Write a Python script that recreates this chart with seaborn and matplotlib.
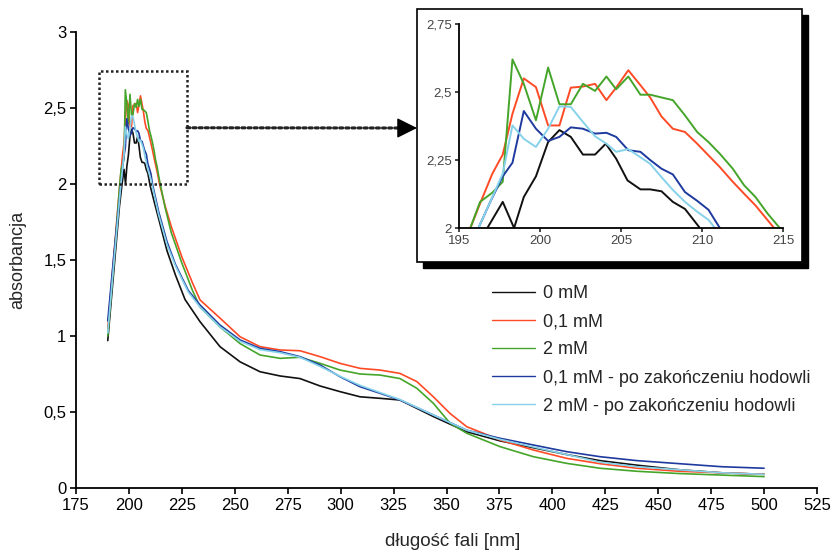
import matplotlib
matplotlib.use("Agg")
import matplotlib.pyplot as plt
import numpy as np
import pandas as pd
import seaborn as sns
from matplotlib.patches import Rectangle

# UV-Vis absorbance spectra of the culture media
labels = ["0 mM", "0,1 mM", "2 mM",
          "0,1 mM - po zakończeniu hodowli", "2 mM - po zakończeniu hodowli"]
colors = ["#111111", "#ff4a26", "#45a52a", "#1f3a9e", "#86d2ea"]

wl_0 = [190, 193, 195.5, 196.75, 197.7, 198.4, 199.0, 199.75, 200.5, 201.2, 201.9,
        202.65, 203.4, 204.06, 204.7, 205.4, 206.2, 206.8, 207.5, 208.2, 208.95,
        210.0, 212, 215, 218, 222, 226.5, 233.6, 243, 252.5, 261.9, 271.4, 280.8,
        290.3, 299.7, 309.2, 318.6, 328, 343.8, 359.6, 375.3, 391, 406.8, 422.5,
        440, 460, 480, 500]
abs_0 = [0.97, 1.45, 1.85, 2.0, 2.096, 2.0, 2.114, 2.19, 2.316, 2.36, 2.335,
         2.27, 2.27, 2.31, 2.255, 2.175, 2.142, 2.142, 2.135, 2.096, 2.07,
         1.99, 1.88, 1.72, 1.56, 1.40, 1.24, 1.094, 0.93, 0.83, 0.765, 0.737, 0.72,
         0.671, 0.634, 0.60, 0.59, 0.579, 0.47, 0.37, 0.31, 0.265, 0.22, 0.18,
         0.15, 0.12, 0.10, 0.09]

wl_01 = [190, 193, 195.7, 196.3, 197.06, 197.7, 198.3, 199.0, 199.75, 200.5, 201.2,
         201.9, 202.65, 203.4, 204.1, 204.7, 205.45, 206.2, 206.8, 207.5, 208.2,
         208.95, 209.7, 210.4, 211.1, 211.9, 212.6, 213.3, 214.45, 217, 220, 225,
         230, 233.6, 243, 252.5, 261.9, 271.4, 280.8, 290.3, 299.7, 309.2, 318.6,
         328, 336, 343.8, 351.7, 359.6, 367.4, 375.3, 391, 406.8, 422.5, 440, 460,
         480, 500]
abs_01 = [1.05, 1.55, 2.0, 2.09, 2.2, 2.27, 2.42, 2.55, 2.518, 2.377, 2.377,
          2.516, 2.52, 2.53, 2.47, 2.516, 2.58, 2.525, 2.48, 2.41, 2.365,
          2.353, 2.31, 2.267, 2.224, 2.17, 2.126, 2.083, 2.0, 1.86, 1.72, 1.52,
          1.35, 1.237, 1.118, 0.995, 0.93, 0.908, 0.903, 0.864, 0.82, 0.787, 0.776,
          0.754, 0.70, 0.60, 0.49, 0.403, 0.36, 0.316, 0.25, 0.195, 0.16, 0.13, 0.11,
          0.10, 0.09]

wl_2 = [190, 193, 195.7, 196.3, 197.06, 197.7, 198.3, 199.0, 199.75, 200.5, 201.2,
        201.9, 202.65, 203.4, 204.1, 204.7, 205.45, 206.2, 206.8, 207.5, 208.2,
        208.95, 209.7, 210.4, 211.1, 211.9, 212.6, 213.3, 214.05, 214.8, 217, 220,
        225, 230, 233.6, 243, 252.5, 261.9, 271.4, 280.8, 290.3, 299.7, 309.2,
        318.6, 328, 336, 343.8, 351.7, 359.6, 375.3, 391, 406.8, 422.5, 440, 460,
        480, 500]
abs_2 = [1.0, 1.52, 2.0, 2.096, 2.13, 2.17, 2.62, 2.53, 2.396, 2.59, 2.455,
         2.455, 2.53, 2.504, 2.557, 2.51, 2.557, 2.49, 2.49, 2.48, 2.47,
         2.414, 2.353, 2.316, 2.273, 2.218, 2.157, 2.114, 2.053, 2.0, 1.85, 1.68,
         1.48, 1.3, 1.19, 1.06, 0.95, 0.875, 0.853, 0.86, 0.82, 0.776, 0.75,
         0.743, 0.72, 0.656, 0.557, 0.426, 0.36, 0.272, 0.206, 0.162, 0.13, 0.11, 0.095,
         0.085, 0.075]

wl_01_end = [190, 193, 196.2, 196.96, 197.7, 198.3, 199.0, 199.75, 200.5, 201.2,
             201.9, 202.65, 203.4, 204.1, 204.7, 205.45, 206.2, 206.8, 207.5, 208.2,
             208.95, 209.7, 210.4, 211.1, 214, 218, 222, 228, 233.6, 243, 252.5,
             261.9, 271.4, 280.8, 290.3, 299.7, 309.2, 318.6, 328, 343.8, 359.6,
             375.3, 391, 406.8, 422.5, 440, 460, 480, 500]
abs_01_end = [1.1, 1.55, 2.0, 2.1, 2.19, 2.24, 2.43, 2.365, 2.32, 2.335,
              2.37, 2.365, 2.347, 2.35, 2.335, 2.286, 2.28, 2.25, 2.218, 2.197,
              2.132, 2.1, 2.067, 2.0, 1.82, 1.62, 1.47, 1.3, 1.204, 1.072, 0.974,
              0.919, 0.897, 0.864, 0.809, 0.732, 0.666, 0.623, 0.579, 0.48, 0.38,
              0.327, 0.283, 0.239, 0.206, 0.18, 0.16, 0.14, 0.13]

wl_2_end = [190, 193, 196.2, 197.06, 197.7, 198.3, 199.0, 199.75, 200.5, 201.2,
            201.9, 202.65, 203.4, 204.1, 204.7, 205.45, 206.2, 206.8, 207.5, 208.2,
            208.95, 209.7, 210.4, 210.8, 214, 218, 222, 228, 233.6, 243, 252.5,
            261.9, 271.4, 280.8, 290.3, 299.7, 309.2, 318.6, 328, 343.8, 359.6,
            375.3, 391, 406.8, 422.5, 440, 460, 480, 500]
abs_2_end = [1.02, 1.5, 2.0, 2.114, 2.2, 2.377, 2.328, 2.298, 2.365, 2.447,
             2.445, 2.39, 2.337, 2.31, 2.28, 2.29, 2.26, 2.236, 2.187, 2.14,
             2.096, 2.06, 2.03, 2.0, 1.80, 1.60, 1.46, 1.29, 1.19, 1.06, 0.965,
             0.91, 0.89, 0.86, 0.80, 0.735, 0.675, 0.628, 0.582, 0.48, 0.38,
             0.32, 0.27, 0.22, 0.17, 0.14, 0.12, 0.10, 0.09]

x_ticks = [175, 200, 225, 250, 275, 300, 325, 350, 375, 400, 425, 450, 475, 500, 525]
y_ticks = [0, 0.5, 1, 1.5, 2, 2.5, 3]
y_tick_labels = ["0", "0,5", "1", "1,5", "2", "2,5", "3"]
inset_x_ticks = [195, 200, 205, 210, 215]
inset_y_ticks = [2, 2.25, 2.5, 2.75]
inset_y_tick_labels = ["2", "2,25", "2,5", "2,75"]

series = [(wl_0, abs_0), (wl_01, abs_01), (wl_2, abs_2),
          (wl_01_end, abs_01_end), (wl_2_end, abs_2_end)]
df = pd.concat([pd.DataFrame({"wl": w, "abs": a, "sample": lab})
                for lab, (w, a) in zip(labels, series)], ignore_index=True)

sns.set_style("ticks")
plt.rcParams["font.family"] = ["Liberation Sans", "DejaVu Sans"]

W, H = 835, 554
fig = plt.figure(figsize=(W / 100, H / 100), dpi=100)
fig.patch.set_facecolor("white")

# main spectrum axes
ax = fig.add_axes([76 / W, 1 - 488 / H, 741 / W, 456 / H], zorder=0)
sns.lineplot(data=df, x="wl", y="abs", hue="sample", hue_order=labels,
             palette=colors, sort=False, estimator=None, lw=1.2, ax=ax)
ax.set_xlim(175, 525)
ax.set_ylim(0, 3)
ax.set_xticks(x_ticks)
ax.set_xticklabels([str(t) for t in x_ticks])
ax.set_yticks(y_ticks)
ax.set_yticklabels(y_tick_labels)
sns.despine(ax=ax)
for s in ("left", "bottom"):
    ax.spines[s].set_linewidth(1.3)
    ax.spines[s].set_color("black")
ax.tick_params(length=4, width=1.2, labelsize=12, colors="black", pad=3)
ax.set_ylabel("absorbancja", fontsize=13)
ax.set_xlabel("długość fali [nm]", fontsize=13.5)
ax.xaxis.set_label_coords((453 - 76) / 741, (488 - 541) / 456)
ax.yaxis.set_label_coords((18 - 76) / 741, 0.5)
ax.xaxis.label.set_va("center")
ax.yaxis.label.set_va("center")

handles, lbls = ax.get_legend_handles_labels()
leg = ax.legend(handles, lbls, loc="upper left",
                bbox_to_anchor=(492 / W, 1 - 285 / H), bbox_transform=fig.transFigure,
                frameon=False, fontsize=13, handlelength=2.4, handletextpad=0.4,
                labelspacing=0.62, borderpad=0, borderaxespad=0)
for line in leg.get_lines():
    line.set_linewidth(1.0)

# zoom region marker and arrow towards the enlarged view
ax.add_patch(Rectangle((185.8, 2.0), 41.6, 0.745, fill=False, ec="#222222",
                       lw=1.8, ls=(0, (1, 1)), zorder=5))
ax.annotate("", xy=(404 / W, 1 - 128 / H), xycoords="figure fraction",
            xytext=(227.4, 2.37), textcoords="data", annotation_clip=False,
            arrowprops=dict(arrowstyle="-", ls=(0, (1, 1)), lw=2.2, color="#222222",
                            shrinkA=0, shrinkB=0))
ax.annotate("", xy=(417 / W, 1 - 128 / H), xycoords="figure fraction",
            xytext=(402 / W, 1 - 128 / H), textcoords="figure fraction",
            annotation_clip=False,
            arrowprops=dict(arrowstyle="-|>,head_length=0.9,head_width=0.45",
                            color="black", lw=1, shrinkA=0, shrinkB=0,
                            mutation_scale=14))

# framed panel with drop shadow for the enlarged peak
fx, fy, fw, fh = 417 / W, 1 - 262 / H, 385 / W, 253 / H
fig.add_artist(Rectangle((fx + 6 / W, fy - 6 / H), fw, fh, transform=fig.transFigure,
                         fc="black", ec="black", zorder=1.5))
fig.add_artist(Rectangle((fx, fy), fw, fh, transform=fig.transFigure,
                         fc="white", ec="black", lw=1.2, zorder=2))

axin = fig.add_axes([459 / W, 1 - 228 / H, 324 / W, 204 / H], zorder=3)
axin.set_facecolor("none")
sns.lineplot(data=df, x="wl", y="abs", hue="sample", hue_order=labels,
             palette=colors, sort=False, estimator=None, lw=1.4, ax=axin,
             legend=False)
axin.set_xlim(195, 215)
axin.set_ylim(2, 2.75)
axin.set_xticks(inset_x_ticks)
axin.set_xticklabels([str(t) for t in inset_x_ticks])
axin.set_yticks(inset_y_ticks)
axin.set_yticklabels(inset_y_tick_labels)
axin.set_xlabel("")
axin.set_ylabel("")
sns.despine(ax=axin)
for s in ("left", "bottom"):
    axin.spines[s].set_linewidth(1.3)
    axin.spines[s].set_color("black")
axin.tick_params(length=3, width=1.2, labelsize=9.5, labelcolor="#444444", pad=2)

fig.savefig("out.png", dpi=100, facecolor="white")
